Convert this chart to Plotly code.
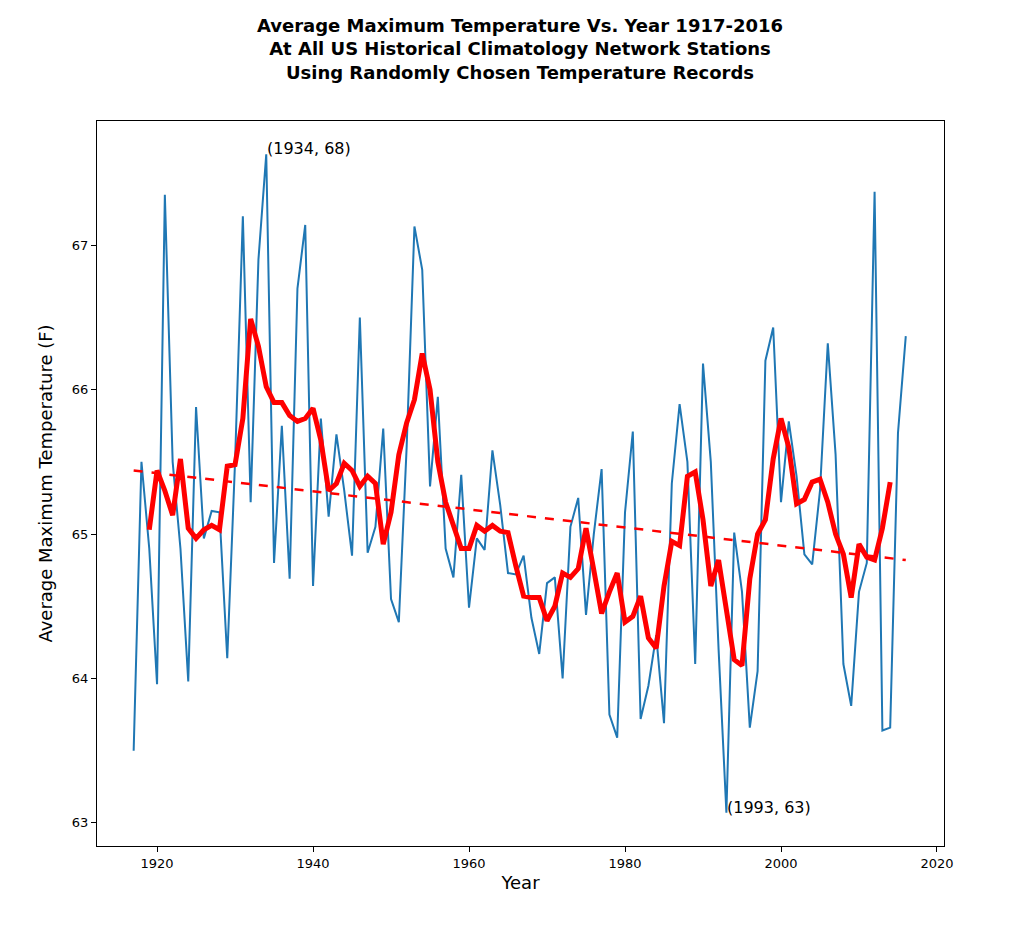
import plotly.graph_objects as go

years = list(range(1917, 2017))
avg_max = [63.5, 65.5, 64.9, 63.96, 67.35, 65.5, 64.9, 63.98, 65.88, 64.97,
           65.16, 65.15, 64.14, 65.5, 67.2, 65.22, 66.9, 67.63, 64.8, 65.75,
           64.69, 66.7, 67.14, 64.64, 65.8, 65.12, 65.69, 65.3, 64.85, 66.5,
           64.87, 65.05, 65.73, 64.55, 64.39, 65.6, 67.13, 66.83, 65.33, 65.95,
           64.9, 64.7, 65.41, 64.49, 64.97, 64.89, 65.58, 65.2, 64.73, 64.72,
           64.85, 64.42, 64.17, 64.66, 64.7, 64.0, 65.05, 65.25, 64.44, 65.0,
           65.45, 63.75, 63.59, 65.15, 65.71, 63.72, 63.95, 64.3, 63.69, 65.35,
           65.9, 65.5, 64.1, 66.18, 65.5, 64.2, 63.07, 65.01, 64.6, 63.66,
           64.05, 66.2, 66.43, 65.22, 65.78, 65.4, 64.86, 64.79, 65.3, 66.32,
           65.55, 64.1, 63.81, 64.6, 64.8, 67.37, 63.64, 63.66, 65.7, 66.37]

smooth_years = list(range(1919, 2015))
smooth = [65.03, 65.44, 65.3, 65.13, 65.52, 65.04, 64.97, 65.03, 65.06, 65.03,
          65.47, 65.48, 65.8, 66.49, 66.3, 66.02, 65.91, 65.91, 65.82, 65.78,
          65.8, 65.87, 65.65, 65.3, 65.35, 65.49, 65.44, 65.33, 65.4, 65.35,
          64.93, 65.15, 65.55, 65.77, 65.93, 66.25, 66.0, 65.5, 65.22, 65.05,
          64.9, 64.9, 65.06, 65.02, 65.06, 65.02, 65.01, 64.78, 64.57, 64.56,
          64.56, 64.4, 64.5, 64.73, 64.7, 64.76, 65.04, 64.75, 64.45, 64.6,
          64.73, 64.39, 64.43, 64.57, 64.28, 64.21, 64.64, 64.95, 64.92, 65.4,
          65.43, 65.1, 64.64, 64.82, 64.5, 64.13, 64.09, 64.69, 65.0, 65.1,
          65.52, 65.8, 65.6, 65.21, 65.24, 65.36, 65.38, 65.22, 65.0, 64.86,
          64.56, 64.93, 64.84, 64.82, 65.04, 65.36]

trend_years = [1917, 2016]
trend = [65.44, 64.82]

fig = go.Figure()
fig.add_trace(go.Scatter(x=years, y=avg_max, mode="lines",
                         line=dict(color="#1f77b4", width=2)))
fig.add_trace(go.Scatter(x=smooth_years, y=smooth, mode="lines",
                         line=dict(color="red", width=5)))
fig.add_trace(go.Scatter(x=trend_years, y=trend, mode="lines",
                         line=dict(color="red", width=2.5, dash="dash")))

for yr, label in [(1934, "(1934, 68)"), (1993, "(1993, 63)")]:
    i = years.index(yr)
    fig.add_annotation(x=yr, y=avg_max[i], text=label, showarrow=False,
                       xanchor="left", yanchor="bottom", xshift=-1, yshift=-6,
                       font=dict(size=16, color="black"))

axis = dict(showgrid=False, zeroline=False, showline=True, linecolor="black",
            linewidth=1, mirror=True, ticks="outside", ticklen=5,
            tickcolor="black", tickfont=dict(size=13, color="black"))

fig.update_layout(
    width=1024, height=951, showlegend=False,
    plot_bgcolor="white", paper_bgcolor="white",
    font=dict(family="DejaVu Sans", color="black"),
    margin=dict(l=89, r=88, t=113, b=113),
    title=dict(text="<b>Average Maximum Temperature Vs. Year 1917-2016<br>"
                    "At All US Historical Climatology Network Stations<br>"
                    "Using Randomly Chosen Temperature Records</b>",
               x=0.5, xanchor="center", y=0.975, yanchor="top",
               font=dict(size=18)),
    xaxis=dict(axis, range=[1912.3, 2020.9], tickvals=[1920, 1940, 1960, 1980, 2000, 2020],
               title=dict(text="Year", font=dict(size=18), standoff=6)),
    yaxis=dict(axis, range=[62.84, 67.86], tickvals=[63, 64, 65, 66, 67],
               title=dict(text="Average Maximum Temperature (F)", font=dict(size=18), standoff=14)),
)

fig.write_html("out.html")
